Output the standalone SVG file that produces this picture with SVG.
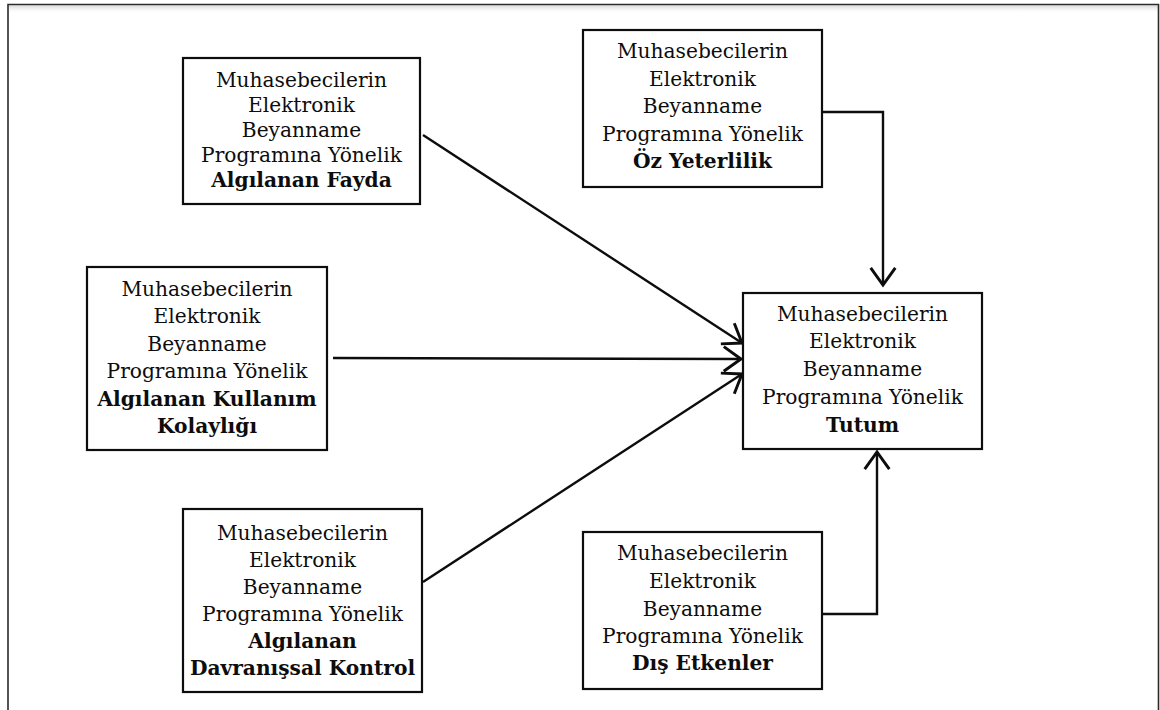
<svg xmlns="http://www.w3.org/2000/svg" width="1160" height="710" viewBox="0 0 1160 710">
  <style>
    .box { fill: #ffffff; stroke: #0d0d0d; stroke-width: 2.2; }
    .t { font-family: "DejaVu Serif", "Liberation Serif", serif; font-size: 20.2px; fill: #0d0d0d; text-anchor: middle; }
    .b { font-weight: bold; }
    .wire { fill: none; stroke: #0d0d0d; stroke-width: 2.4; marker-end: url(#head); }
  </style>
  <defs>
    <marker id="head" markerUnits="userSpaceOnUse" markerWidth="32" markerHeight="32" viewBox="-17 -13 20 26" refX="0" refY="0" orient="auto">
      <path d="M-14,-10 L0,0 L-14,10" fill="none" stroke="#0d0d0d" stroke-width="2.4" stroke-linejoin="miter"/>
    </marker>
    <linearGradient id="edgeShade" x1="0" y1="0" x2="0" y2="1">
      <stop offset="0" stop-color="#d8d8d8"/>
      <stop offset="1" stop-color="#ffffff" stop-opacity="0"/>
    </linearGradient>
  </defs>

  <rect x="0" y="0" width="1160" height="710" fill="#ffffff"/>

  <!-- page frame -->
  <g id="frame">
    <rect x="9" y="5.5" width="1149" height="8" fill="url(#edgeShade)"/>
    <path d="M8,710 V4.5 H1158.5 V710" fill="none" stroke="#2a2a2a" stroke-width="1.6"/>
  </g>

  <!-- connectors -->
  <g id="connectors">
    <path class="wire" d="M423,135 L742,343"/>
    <path class="wire" d="M333,358 L741,359"/>
    <path class="wire" d="M423,582 L742,374"/>
    <path class="wire" d="M822,112 H883 V285"/>
    <path class="wire" d="M822,614 H877 V452"/>
  </g>

  <g id="fayda">
    <rect class="box" x="183" y="58" width="237" height="146"/>
    <text class="t" x="301.5" y="87">Muhasebecilerin</text>
    <text class="t" x="301.5" y="112">Elektronik</text>
    <text class="t" x="301.5" y="137">Beyanname</text>
    <text class="t" x="301.5" y="162">Programına Yönelik</text>
    <text class="t b" x="301.5" y="187">Algılanan Fayda</text>
  </g>

  <g id="oz-yeterlilik">
    <rect class="box" x="583" y="30" width="239" height="157"/>
    <text class="t" x="702.5" y="58">Muhasebecilerin</text>
    <text class="t" x="702.5" y="86">Elektronik</text>
    <text class="t" x="702.5" y="113">Beyanname</text>
    <text class="t" x="702.5" y="141">Programına Yönelik</text>
    <text class="t b" x="702.5" y="168">Öz Yeterlilik</text>
  </g>

  <g id="kullanim-kolayligi">
    <rect class="box" x="87" y="267" width="240" height="183"/>
    <text class="t" x="207" y="296">Muhasebecilerin</text>
    <text class="t" x="207" y="323">Elektronik</text>
    <text class="t" x="207" y="351">Beyanname</text>
    <text class="t" x="207" y="378">Programına Yönelik</text>
    <text class="t b" x="207" y="406">Algılanan Kullanım</text>
    <text class="t b" x="207" y="433">Kolaylığı</text>
  </g>

  <g id="tutum">
    <rect class="box" x="743" y="293" width="239" height="156"/>
    <text class="t" x="862.5" y="321">Muhasebecilerin</text>
    <text class="t" x="862.5" y="348">Elektronik</text>
    <text class="t" x="862.5" y="376">Beyanname</text>
    <text class="t" x="862.5" y="404">Programına Yönelik</text>
    <text class="t b" x="862.5" y="432">Tutum</text>
  </g>

  <g id="davranissal-kontrol">
    <rect class="box" x="183" y="509" width="239" height="183"/>
    <text class="t" x="302.5" y="540">Muhasebecilerin</text>
    <text class="t" x="302.5" y="567">Elektronik</text>
    <text class="t" x="302.5" y="594">Beyanname</text>
    <text class="t" x="302.5" y="621">Programına Yönelik</text>
    <text class="t b" x="302.5" y="648">Algılanan</text>
    <text class="t b" x="302.5" y="675">Davranışsal Kontrol</text>
  </g>

  <g id="dis-etkenler">
    <rect class="box" x="583" y="532" width="239" height="157"/>
    <text class="t" x="702.5" y="560">Muhasebecilerin</text>
    <text class="t" x="702.5" y="588">Elektronik</text>
    <text class="t" x="702.5" y="616">Beyanname</text>
    <text class="t" x="702.5" y="643">Programına Yönelik</text>
    <text class="t b" x="702.5" y="670">Dış Etkenler</text>
  </g>
</svg>
